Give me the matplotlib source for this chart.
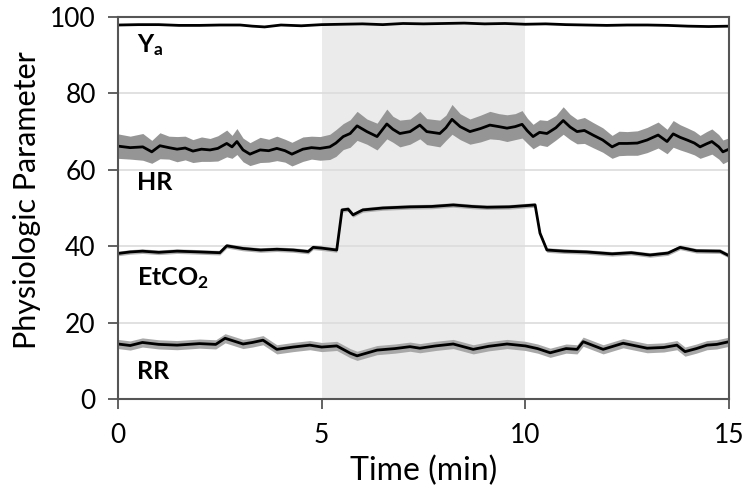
import matplotlib
matplotlib.use("Agg")
import matplotlib.pyplot as plt
import numpy as np

# ---- data ----
ya_t = [0, 0.5, 1.0, 1.5, 2.0, 2.5, 3.0, 3.3, 3.6, 4.0, 4.5, 5.0, 5.5, 6.0, 6.5, 7.0, 7.5, 8.0, 8.5, 9.0,
        9.5, 10.0, 10.5, 11.0, 11.5, 12.0, 12.5, 13.0, 13.5, 14.0, 14.5, 15.0]
ya_v = [97.9, 98.0, 98.0, 97.8, 97.8, 97.9, 97.9, 97.6, 97.4, 97.9, 97.7, 98.0, 98.1, 98.2, 98.0, 98.3, 98.2,
        98.3, 98.4, 98.2, 98.3, 98.1, 98.2, 98.0, 97.9, 97.8, 97.9, 97.9, 97.8, 97.6, 97.5, 97.6]

hr_t = [0.0, 0.3, 0.61, 0.83, 1.03, 1.25, 1.45, 1.65, 1.84, 2.05, 2.26, 2.45, 2.67, 2.8, 2.92, 3.07, 3.24,
        3.49, 3.7, 3.9, 4.1, 4.27, 4.54, 4.75, 4.96, 5.2, 5.35, 5.53, 5.7, 5.87, 6.11, 6.36, 6.6, 6.75,
        6.92, 7.17, 7.41, 7.58, 7.9, 8.05, 8.2, 8.4, 8.64, 8.9, 9.13, 9.35, 9.55, 9.75, 9.92, 10.05, 10.19,
        10.35, 10.53, 10.75, 10.93, 11.1, 11.27, 11.45, 11.66, 11.9, 12.13, 12.3, 12.5, 12.75, 12.99, 13.26,
        13.48, 13.63, 13.8, 13.97, 14.15, 14.29, 14.45, 14.58, 14.75, 14.85, 15.0]
hr_v = [66.2, 65.8, 66.0, 64.7, 66.3, 65.8, 65.4, 65.7, 64.9, 65.4, 65.2, 65.6, 66.9, 66.0, 67.4, 65.2, 64.1,
        65.2, 65.0, 65.6, 65.0, 64.1, 65.4, 65.8, 65.6, 66.0, 67.0, 68.7, 69.5, 71.5, 70.0, 68.7, 72.0, 70.6,
        69.5, 70.0, 71.7, 70.0, 69.5, 71.0, 73.2, 71.3, 70.0, 70.8, 71.7, 71.3, 70.9, 71.3, 71.9, 70.2, 68.7,
        69.8, 69.5, 71.0, 72.9, 71.2, 70.0, 70.3, 69.1, 67.8, 66.0, 66.9, 66.9, 67.0, 67.8, 69.1,
        67.4, 69.4, 68.5, 67.8, 67.0, 66.0, 66.8, 67.4, 66.0, 64.7, 65.4]
hr_err = [3.2, 3.0, 3.5, 3.0, 3.4, 3.0, 3.3, 3.1, 3.0, 3.2, 3.0, 3.3, 3.5, 3.0, 3.4, 3.1, 3.0,
          3.3, 3.0, 3.2, 3.0, 3.1, 3.2, 3.0, 3.1, 3.3, 3.5, 3.4, 3.6, 3.8, 3.3, 3.5, 3.9, 3.4,
          3.5, 3.3, 3.6, 3.4, 3.5, 3.3, 3.9, 3.4, 3.3, 3.5, 3.6, 3.4, 3.5, 3.4, 3.6, 3.3, 3.2,
          3.3, 3.4, 3.2, 3.6, 3.3, 3.2, 3.4, 3.3, 3.2, 3.0, 3.2, 3.1, 3.2, 3.3, 3.4,
          3.2, 3.5, 3.3, 3.2, 3.1, 3.0, 3.2, 3.3, 3.2, 3.1, 3.0]

et_t = [0.0, 0.3, 0.6, 1.0, 1.45, 2.0, 2.5, 2.67, 3.07, 3.5, 3.9, 4.3, 4.67, 4.79, 5.0, 5.37, 5.5, 5.65,
        5.77, 6.01, 6.5, 7.17, 7.7, 8.23, 8.7, 9.06, 9.6, 10.24, 10.36, 10.53, 10.95, 11.5, 12.13,
        12.6, 13.06, 13.5, 13.8, 14.2, 14.78, 15.0]
et_v = [38.1, 38.5, 38.7, 38.4, 38.7, 38.5, 38.3, 40.1, 39.4, 39.0, 39.2, 39.0, 38.6, 39.7, 39.5, 39.0, 49.5, 49.7,
        48.2, 49.5, 50.0, 50.3, 50.4, 50.8, 50.4, 50.2, 50.3, 50.8, 43.4, 39.0, 38.7, 38.5, 38.0,
        38.3, 37.7, 38.2, 39.7, 38.8, 38.7, 37.5]

rr_t = [0.0, 0.3, 0.6, 1.0, 1.45, 2.0, 2.4, 2.63, 3.07, 3.3, 3.56, 3.9, 4.3, 4.71, 5.0, 5.37, 5.7, 5.87,
        6.36, 6.8, 7.17, 7.41, 7.8, 8.23, 8.72, 9.1, 9.55, 10.0, 10.3, 10.61, 11.0, 11.27, 11.42, 11.91,
        12.4, 12.99, 13.4, 13.72, 13.92, 14.2, 14.46, 14.7, 15.0]
rr_v = [14.4, 14.0, 14.8, 14.3, 14.1, 14.5, 14.3, 15.9, 14.4, 14.8, 15.4, 13.0, 13.6, 14.1, 13.6, 13.9, 12.0, 11.3,
        12.8, 13.2, 13.7, 13.3, 13.9, 14.4, 13.0, 13.8, 14.4, 13.9, 13.2, 12.1, 13.2, 13.0, 15.0, 13.0,
        14.6, 13.3, 13.5, 14.1, 12.4, 13.2, 14.1, 14.3, 15.0]

xticks = [0, 5, 10, 15]
yticks = [0, 20, 40, 60, 80, 100]

# ---- plotting ----
FONT = "Lato"
plt.rcParams["font.family"] = [FONT, "DejaVu Sans"]
plt.rcParams["mathtext.fontset"] = "custom"
plt.rcParams["mathtext.rm"] = FONT
plt.rcParams["mathtext.bf"] = FONT + ":bold"

fig = plt.figure(figsize=(7.5, 4.94), dpi=100)
ax = fig.add_axes([0.1573, 0.1923, 0.8147, 0.7733])

ax.axvspan(5, 10, color="#ebebeb", zorder=0, lw=0)
for y in yticks[1:-1]:
    ax.axhline(y, color="#dcdcdc", lw=1.2, zorder=0.5)

hr_t_a = np.array(hr_t); hr_v_a = np.array(hr_v); hr_e_a = np.array(hr_err)
ax.fill_between(hr_t_a, hr_v_a - hr_e_a, hr_v_a + hr_e_a, color="#959595", lw=0, zorder=1)
rr_v_a = np.array(rr_v)
ax.fill_between(rr_t, rr_v_a - 1.2, rr_v_a + 1.2, color="#a8a8a8", lw=0, zorder=1)
et_v_a = np.array(et_v)
ax.fill_between(et_t, et_v_a - 0.6, et_v_a + 0.6, color="#b0b0b0", lw=0, zorder=1)

for t, v in [(ya_t, ya_v), (hr_t, hr_v), (et_t, et_v), (rr_t, rr_v)]:
    ax.plot(t, v, color="black", lw=2.0, zorder=2)

LS = 18
ax.text(0.47, 92.7, r"$\mathbf{Y_a}$", fontsize=LS, va="center", ha="left")
ax.text(0.47, 56.8, "HR", fontsize=LS, fontweight="bold", va="center", ha="left")
ax.text(0.47, 31.7, r"$\mathbf{EtCO_2}$", fontsize=LS, va="center", ha="left")
ax.text(0.47, 7.1, "RR", fontsize=LS, fontweight="bold", va="center", ha="left")

ax.set_xlim(0, 15)
ax.set_ylim(0, 100)
ax.set_xticks(xticks)
ax.set_yticks(yticks)
ax.tick_params(axis="both", direction="out", length=7, width=1.3, color="#555555",
               labelsize=19)
ax.tick_params(axis="y", pad=9)
ax.tick_params(axis="x", pad=10)
for s in ax.spines.values():
    s.set_color("#555555")
    s.set_linewidth(1.5)

ax.set_xlabel("Time (min)", fontsize=23, labelpad=6)
ax.set_ylabel("Physiologic Parameter", fontsize=22)
ax.yaxis.set_label_coords(-0.126, 0.52)

fig.savefig("out.png", dpi=100)
